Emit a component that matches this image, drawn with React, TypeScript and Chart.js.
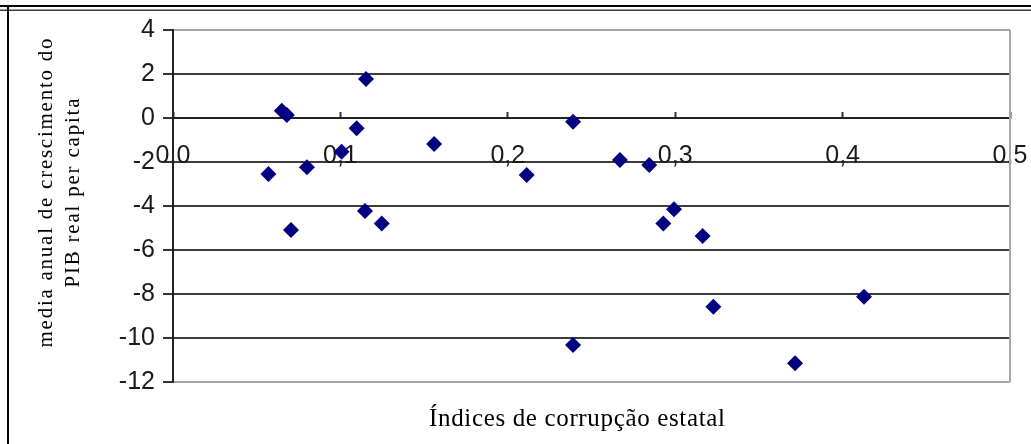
import React, { useEffect, useRef } from 'react';
import { Chart, registerables } from 'chart.js';

Chart.register(...registerables);

// Corruption index per country (x) and mean annual real GDP per capita growth (y)
const corruptionIndex = [
  0.057, 0.065, 0.068, 0.0705, 0.08, 0.1007, 0.1097, 0.1153, 0.1147, 0.1247, 0.156,
  0.2113, 0.239, 0.239, 0.267, 0.2845, 0.2929, 0.2993, 0.3164, 0.3228, 0.3716, 0.4128,
];
const gdpGrowth = [
  -2.55, 0.33, 0.14, -5.09, -2.24, -1.53, -0.47, 1.77, -4.23, -4.79, -1.18,
  -2.59, -0.17, -10.32, -1.91, -2.14, -4.79, -4.15, -5.36, -8.58, -11.15, -8.12,
];

const xTickLabels = ['0,0', '0,1', '0,2', '0,3', '0,4', '0,5'];
const yTickLabels = ['-12', '-10', '-8', '-6', '-4', '-2', '0', '2', '4'];

const yTitleLines = ['media anual de crescimento do', 'PIB real per capita'];
const xTitle = 'Índices de corrupção estatal';

const W = 1031;
const H = 444;

// Draws a line of text centred on (cx, baseline) stretched to a given width
function drawSpaced(
  ctx: CanvasRenderingContext2D,
  text: string,
  cx: number,
  cy: number,
  width: number,
  rotate: boolean
) {
  ctx.save();
  ctx.translate(cx, cy);
  if (rotate) ctx.rotate(-Math.PI / 2);
  const chars = Array.from(text);
  const widths = chars.map((c) => ctx.measureText(c).width);
  const natural = widths.reduce((a, b) => a + b, 0);
  const gap = chars.length > 1 ? (width - natural) / (chars.length - 1) : 0;
  let x = -width / 2;
  chars.forEach((c, i) => {
    ctx.fillText(c, x, 0);
    x += widths[i] + gap;
  });
  ctx.restore();
}

const framePlugin = {
  id: 'frame',
  beforeDraw(chart: any) {
    const ctx = chart.ctx as CanvasRenderingContext2D;
    ctx.save();
    ctx.fillStyle = '#ffffff';
    ctx.fillRect(0, 0, W, H);
    // page frame
    ctx.fillStyle = '#000000';
    ctx.fillRect(0, 5, W, 2);
    ctx.fillStyle = '#3a3a3a';
    ctx.fillRect(0, 9.5, W, 1.5);
    ctx.fillStyle = '#000000';
    ctx.fillRect(7, 5, 2, H - 5);
    ctx.restore();
  },
  beforeDatasetsDraw(chart: any) {
    const ctx = chart.ctx as CanvasRenderingContext2D;
    const a = chart.chartArea;
    ctx.save();
    ctx.strokeStyle = '#a8a8a8';
    ctx.lineWidth = 2;
    ctx.beginPath();
    ctx.moveTo(a.right, a.top);
    ctx.lineTo(a.right, a.bottom);
    ctx.stroke();
    ctx.restore();
  },
  afterDraw(chart: any) {
    const ctx = chart.ctx as CanvasRenderingContext2D;
    const a = chart.chartArea;
    const midY = (a.top + a.bottom) / 2 - 13;
    ctx.save();
    ctx.fillStyle = '#000000';
    ctx.textBaseline = 'alphabetic';
    ctx.textAlign = 'left';
    ctx.font = '21px "Liberation Serif", "DejaVu Serif", serif';
    drawSpaced(ctx, yTitleLines[0], 52, midY, 309, true);
    drawSpaced(ctx, yTitleLines[1], 79, midY, 189, true);
    ctx.font = '25px "Liberation Serif", "DejaVu Serif", serif';
    drawSpaced(ctx, xTitle, 577, 426, 296, false);
    ctx.restore();
  },
};

export default function App() {
  const canvasRef = useRef<HTMLCanvasElement | null>(null);

  useEffect(() => {
    const canvas = canvasRef.current;
    if (!canvas) return;
    const points = corruptionIndex.map((x, i) => ({ x, y: gdpGrowth[i] }));
    const tickFont = { family: '"Liberation Sans", Arial, sans-serif', size: 25 };

    const chart = new Chart(canvas, {
      type: 'scatter',
      data: {
        datasets: [
          {
            data: points,
            pointStyle: 'rectRot',
            pointRadius: 8,
            pointHoverRadius: 8,
            backgroundColor: '#000080',
            borderColor: '#000080',
            borderWidth: 0,
          },
        ],
      },
      options: {
        responsive: false,
        animation: false,
        devicePixelRatio: 1,
        events: [],
        layout: { padding: { left: 0, top: 30, right: W - 1010, bottom: H - 382 } },
        plugins: {
          legend: { display: false },
          tooltip: { enabled: false },
          title: { display: false },
        },
        scales: {
          x: {
            type: 'linear',
            min: 0,
            max: 0.5,
            position: { y: 0 } as any,
            ticks: {
              stepSize: 0.1,
              font: tickFont,
              color: '#1a1a1a',
              padding: 30,
              maxRotation: 0,
              autoSkip: false,
              callback: (_v: any, i: number) => xTickLabels[i],
            },
            grid: {
              drawOnChartArea: false,
              drawTicks: true,
              tickLength: -7,
              tickColor: '#333333',
              tickWidth: 2,
            },
            border: { display: true, color: '#222222', width: 2 },
            afterFit: (s: any) => {
              s.paddingLeft = 0;
              s.paddingRight = 0;
            },
          },
          y: {
            type: 'linear',
            min: -12,
            max: 4,
            ticks: {
              stepSize: 2,
              font: tickFont,
              color: '#1a1a1a',
              padding: 8,
              autoSkip: false,
              callback: (_v: any, i: number) => yTickLabels[i],
            },
            grid: {
              color: (c: any) =>
                c.tick && (c.tick.value === 4 || c.tick.value === -12) ? '#a8a8a8' : '#3c3c3c',
              lineWidth: 2,
              tickLength: 10,
              tickColor: '#333333',
              tickWidth: 2,
            },
            border: { display: true, color: '#222222', width: 2 },
            afterFit: (s: any) => {
              s.width = 173;
            },
          },
        },
      },
      plugins: [framePlugin],
    });

    return () => chart.destroy();
  }, []);

  return (
    <div style={{ position: 'fixed', left: 0, top: 0, width: W, height: H, background: '#fff' }}>
      <canvas ref={canvasRef} width={W} height={H} style={{ display: 'block', width: W, height: H }} />
    </div>
  );
}
